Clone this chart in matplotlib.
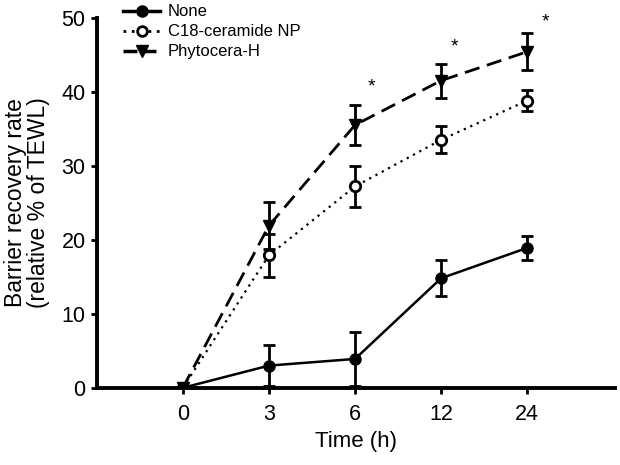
import matplotlib
matplotlib.use('Agg')
import matplotlib.pyplot as plt
from matplotlib.lines import Line2D

plt.rcParams['font.family'] = ['Liberation Sans', 'DejaVu Sans']

# data
times = ['0', '3', '6', '12', '24']
none_mean = [0, 3.0, 3.9, 14.8, 18.9]
none_err = [0, 2.8, 3.6, 2.4, 1.6]
c18_mean = [0, 17.9, 27.2, 33.5, 38.8]
c18_err = [0, 2.9, 2.8, 1.8, 1.4]
phyto_mean = [0, 21.9, 35.5, 41.5, 45.4]
phyto_err = [0, 3.2, 2.7, 2.3, 2.5]
star_x = [2.19, 3.16, 4.21]
star_y = [40.7, 46.1, 49.4]

x = list(range(len(times)))

fig = plt.figure(figsize=(6.2, 4.65), dpi=100)
ax = fig.add_axes([0.156, 0.166, 0.836, 0.796])

common = dict(color='black', capsize=4.5, capthick=2, elinewidth=2)
ax.errorbar(x, phyto_mean, yerr=phyto_err, lw=2, dashes=(5.5, 2.8),
            marker='v', ms=8.5, **common)
ax.errorbar(x, c18_mean, yerr=c18_err, lw=1.6, ls=(0, (1, 2.2)),
            marker='o', mfc='white', mew=2, ms=7.5, **common)
ax.errorbar(x, none_mean, yerr=none_err, lw=1.8, ls='-',
            marker='o', ms=8, **common)

# significance marks
for sx, sy in zip(star_x, star_y):
    ax.text(sx, sy, '*', ha='center', va='center', fontsize=14)

ax.set_xlim(-1, 5.02)
ax.set_ylim(0, 50)
ax.set_xticks(x)
ax.set_xticklabels(times)
ax.set_yticks([0, 10, 20, 30, 40, 50])
for s in ['top', 'right']:
    ax.spines[s].set_visible(False)
for s in ['left', 'bottom']:
    ax.spines[s].set_linewidth(2.8)
ax.tick_params(width=2, length=4, labelsize=15.5, pad=8)
ax.tick_params(axis='y', pad=4)
ax.set_xlabel('Time (h)', fontsize=16, labelpad=4)
ax.set_ylabel('Barrier recovery rate\n(relative % of TEWL)', fontsize=16.5,
              labelpad=8, linespacing=1.0)

handles = [
    Line2D([], [], color='black', lw=2.5, marker='o', ms=8),
    Line2D([], [], color='black', lw=2, ls=(0, (1, 2)), marker='o',
           mfc='white', mew=2, ms=7),
    Line2D([], [], color='black', lw=2.5, dashes=(4, 1.5), marker='v', ms=8),
]
labels = ['None', 'C18-ceramide NP', 'Phytocera-H']
fig.legend(handles, labels, loc='upper left', bbox_to_anchor=(0.183, 1.012),
           frameon=False, fontsize=12, handlelength=2.2, handletextpad=0.45,
           labelspacing=0.3, borderpad=0.1)

fig.savefig('out.png', dpi=100)
